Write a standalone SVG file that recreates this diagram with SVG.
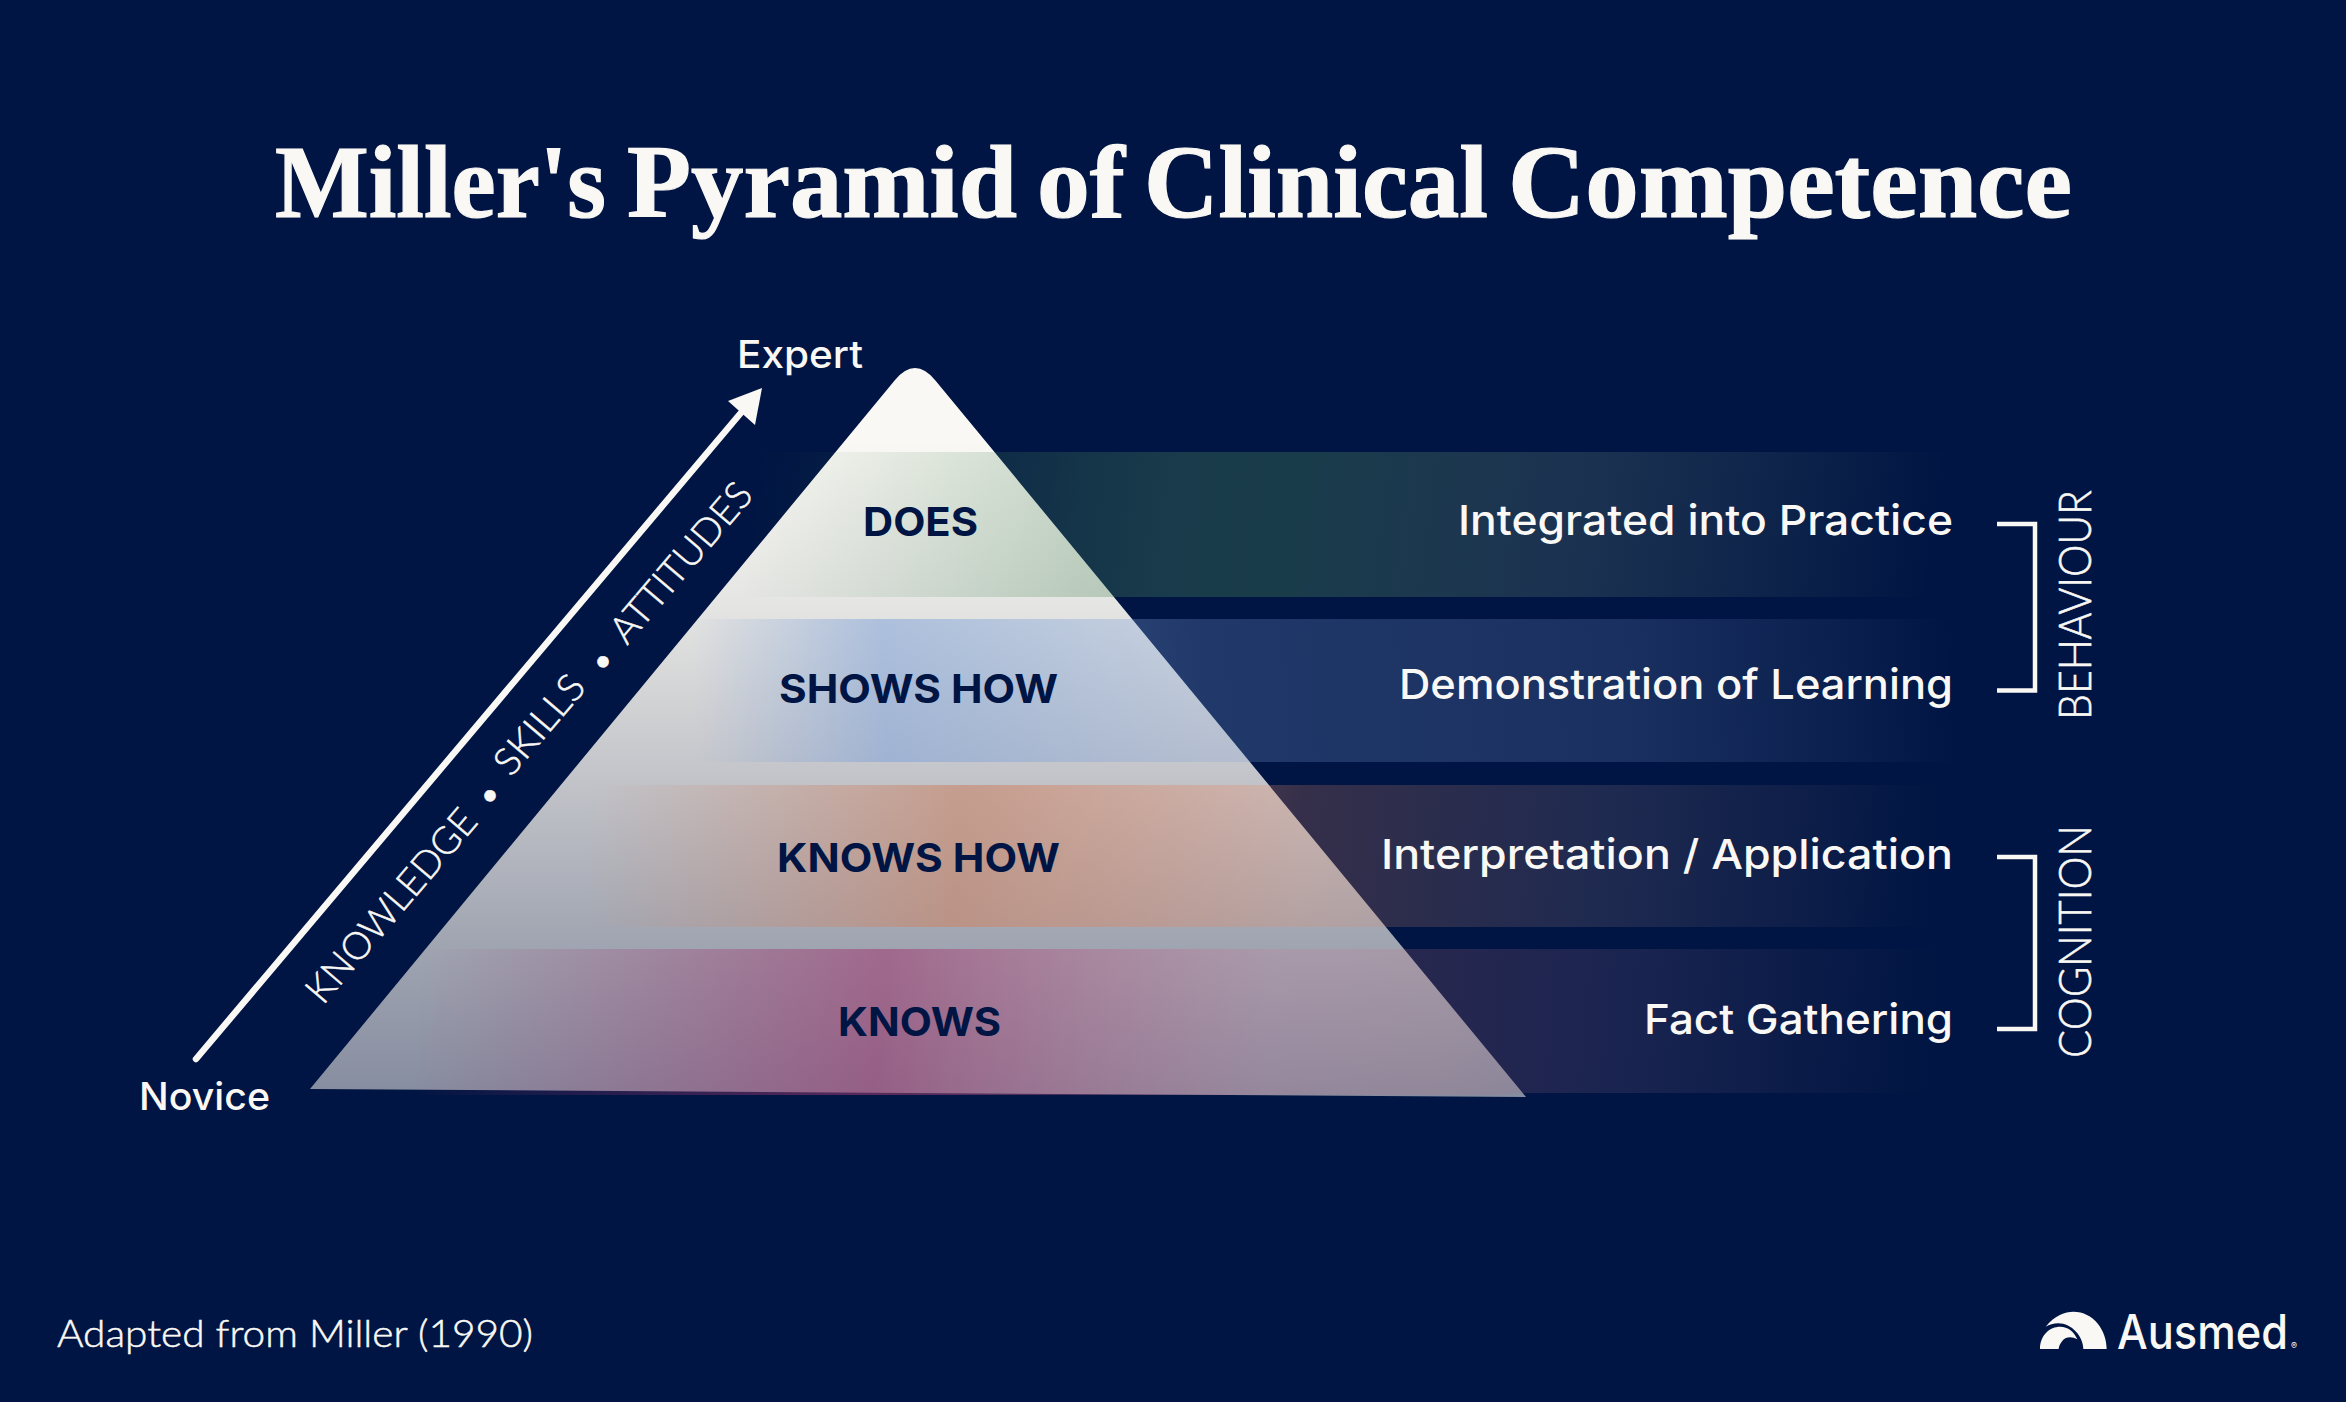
<svg xmlns="http://www.w3.org/2000/svg" width="2346" height="1402" viewBox="0 0 2346 1402">
<style>
text{font-family:"Inter","Liberation Sans",sans-serif;fill:#FAF8F4}
.title{font-family:"Liberation Serif",serif;font-weight:700;font-size:104px;stroke:#FAF8F4;stroke-width:1.2px}
.lvl{font-weight:700;font-size:40px;fill:#001543}
.desc{font-weight:500;font-size:41px}
.end{font-weight:500;font-size:38px}
.side{font-family:"Lato","Inter",sans-serif;font-weight:300;font-size:45px;stroke:#FAF8F4;stroke-width:.6px}
.axis{font-family:"Lato","Inter",sans-serif;font-weight:300;font-size:38px;stroke:#FAF8F4;stroke-width:.5px}
.foot{font-family:"Lato","Inter",sans-serif;font-weight:300;font-size:38px;stroke:#FAF8F4;stroke-width:.5px}
.brand{font-weight:500;font-size:48px}
.br{fill:none;stroke:#FAF8F4;stroke-width:4.5}
</style>
<defs>
<linearGradient id="base" gradientUnits="userSpaceOnUse" x1="0" y1="440" x2="0" y2="1095">
<stop offset="0" stop-color="#FAF8F4"/><stop offset=".25" stop-color="#E5E5E3"/><stop offset=".5" stop-color="#C5C6CB"/><stop offset=".76" stop-color="#A1A6B2"/><stop offset="1" stop-color="#868DA0"/>
</linearGradient>
<linearGradient id="g1" gradientUnits="userSpaceOnUse" x1="760" y1="452" x2="1960" y2="620">
<stop offset="0" stop-color="#4A8759" stop-opacity="0"/><stop offset=".27" stop-color="#4A8759" stop-opacity=".28"/><stop offset=".34" stop-color="#4A8759" stop-opacity=".33"/><stop offset=".45" stop-color="#4A8759" stop-opacity=".34"/><stop offset=".7" stop-color="#829C84" stop-opacity=".2"/><stop offset=".86" stop-color="#829C84" stop-opacity=".09"/><stop offset=".97" stop-color="#829C84" stop-opacity="0"/>
</linearGradient>
<linearGradient id="g2" gradientUnits="userSpaceOnUse" x1="690" y1="619" x2="1960" y2="560">
<stop offset="0" stop-color="#7CA0D8" stop-opacity="0"/><stop offset=".15" stop-color="#7CA0D8" stop-opacity=".52"/><stop offset=".4" stop-color="#7CA0D8" stop-opacity=".26"/><stop offset=".73" stop-color="#829CD4" stop-opacity=".2"/><stop offset=".9" stop-color="#829CD4" stop-opacity=".08"/><stop offset=".99" stop-color="#829CD4" stop-opacity="0"/>
</linearGradient>
<linearGradient id="g3" gradientUnits="userSpaceOnUse" x1="590" y1="785" x2="1960" y2="900">
<stop offset="0" stop-color="#D08A70" stop-opacity="0"/><stop offset=".27" stop-color="#C8866A" stop-opacity=".62"/><stop offset=".52" stop-color="#EB8862" stop-opacity=".225"/><stop offset=".74" stop-color="#9B7E84" stop-opacity=".2"/><stop offset=".89" stop-color="#9B7E84" stop-opacity=".08"/><stop offset=".98" stop-color="#9B7E84" stop-opacity="0"/>
</linearGradient>
<linearGradient id="g4" gradientUnits="userSpaceOnUse" x1="420" y1="949" x2="1960" y2="1090">
<stop offset="0" stop-color="#A03A70" stop-opacity="0"/><stop offset=".3" stop-color="#A03A70" stop-opacity=".56"/><stop offset=".55" stop-color="#D06F90" stop-opacity=".2"/><stop offset=".66" stop-color="#BE6F7F" stop-opacity=".2"/><stop offset=".78" stop-color="#826084" stop-opacity=".2"/><stop offset=".9" stop-color="#826084" stop-opacity=".08"/><stop offset=".98" stop-color="#826084" stop-opacity="0"/>
</linearGradient>
</defs>
<rect width="2346" height="1402" fill="#001543"/>
<text class="title" id="title" y="217"><tspan x="275" textLength="331" lengthAdjust="spacingAndGlyphs">Miller's</tspan> <tspan x="627" textLength="390" lengthAdjust="spacingAndGlyphs">Pyramid</tspan> <tspan x="1037" textLength="88" lengthAdjust="spacingAndGlyphs">of</tspan> <tspan x="1144" textLength="344" lengthAdjust="spacingAndGlyphs">Clinical</tspan> <tspan x="1508" textLength="564" lengthAdjust="spacingAndGlyphs">Competence</tspan></text>
<g id="pyramid">
<path d="M310 1089L894.6 380.4Q915 355.6 935.4 380.4L1526 1097Z" fill="url(#base)"/>
</g>
<g id="level-does"><rect x="700" y="452" width="1260" height="145" fill="url(#g1)"/><text class="lvl" x="863" y="536" textLength="115" lengthAdjust="spacingAndGlyphs">DOES</text><text class="desc" x="1458" y="535" textLength="495" lengthAdjust="spacingAndGlyphs">Integrated into Practice</text></g>
<g id="level-shows-how"><rect x="690" y="619" width="1270" height="143" fill="url(#g2)"/><text class="lvl" x="779" y="703" textLength="279" lengthAdjust="spacingAndGlyphs">SHOWS HOW</text><text class="desc" x="1399" y="699" textLength="554" lengthAdjust="spacingAndGlyphs">Demonstration of Learning</text></g>
<g id="level-knows-how"><rect x="590" y="785" width="1370" height="142" fill="url(#g3)"/><text class="lvl" x="777" y="872" textLength="283" lengthAdjust="spacingAndGlyphs">KNOWS HOW</text><text class="desc" x="1381" y="869" textLength="572" lengthAdjust="spacingAndGlyphs">Interpretation / Application</text></g>
<g id="level-knows"><path d="M420 949H1960V1093H1526L1491 1095H420Z" fill="url(#g4)"/><text class="lvl" x="838" y="1036" textLength="163" lengthAdjust="spacingAndGlyphs">KNOWS</text><text class="desc" x="1644" y="1034" textLength="309" lengthAdjust="spacingAndGlyphs">Fact Gathering</text></g>
<g id="connectors">
<path d="M196 1059L745 408" fill="none" stroke="#FAF8F4" stroke-width="6.5" stroke-linecap="round"/>
<path d="M762 388L728 401L755 425Z" fill="#FAF8F4"/>
<path class="br" d="M1997 524H2035V690.5H1997"/>
<path class="br" d="M1997 857H2035V1029H1997"/>
</g>
<g id="expert"><text class="end" x="737" y="368" textLength="126" lengthAdjust="spacingAndGlyphs">Expert</text></g>
<g id="novice"><text class="end" x="139" y="1110" textLength="131" lengthAdjust="spacingAndGlyphs">Novice</text></g>
<g id="axis-label">
<text class="axis" transform="translate(323 1006) rotate(-49.6)" textLength="241" lengthAdjust="spacingAndGlyphs">KNOWLEDGE</text>
<text class="axis" transform="translate(498.6 803) rotate(-49.6)" text-anchor="middle">•</text>
<text class="axis" transform="translate(511 778) rotate(-49.6)" textLength="118" lengthAdjust="spacingAndGlyphs">SKILLS</text>
<text class="axis" transform="translate(611.6 669) rotate(-49.6)" text-anchor="middle">•</text>
<text class="axis" transform="translate(627 646) rotate(-49.6)" textLength="197" lengthAdjust="spacingAndGlyphs">ATTITUDES</text>
</g>
<g id="behaviour"><text class="side" transform="translate(2091 720) rotate(-90)" textLength="230" lengthAdjust="spacingAndGlyphs">BEHAVIOUR</text></g>
<g id="cognition"><text class="side" transform="translate(2091 1058) rotate(-90)" textLength="233" lengthAdjust="spacingAndGlyphs">COGNITION</text></g>
<g id="source"><text class="foot" x="57" y="1347" textLength="476" lengthAdjust="spacingAndGlyphs">Adapted from Miller (1990)</text></g>
<g id="logo">
<g transform="translate(2000 1280) scale(.3333)" fill="#FAF8F4">
<path d="M137 140C165 105 195 95 220 95C280 95 320 150 320 207L250 207C250 170 215 130 175 130C160 130 148 134 137 140Z"/>
<path d="M120 207C120 165 150 140 180 140C205 140 222 155 232 178C215 168 195 170 185 185C178 195 177 200 176 207Z"/>
</g>
<text class="brand" x="2117" y="1349" textLength="171" lengthAdjust="spacingAndGlyphs">Ausmed</text>
<text x="2291" y="1349" style="font-size:9px">®</text>
</g>
</svg>
